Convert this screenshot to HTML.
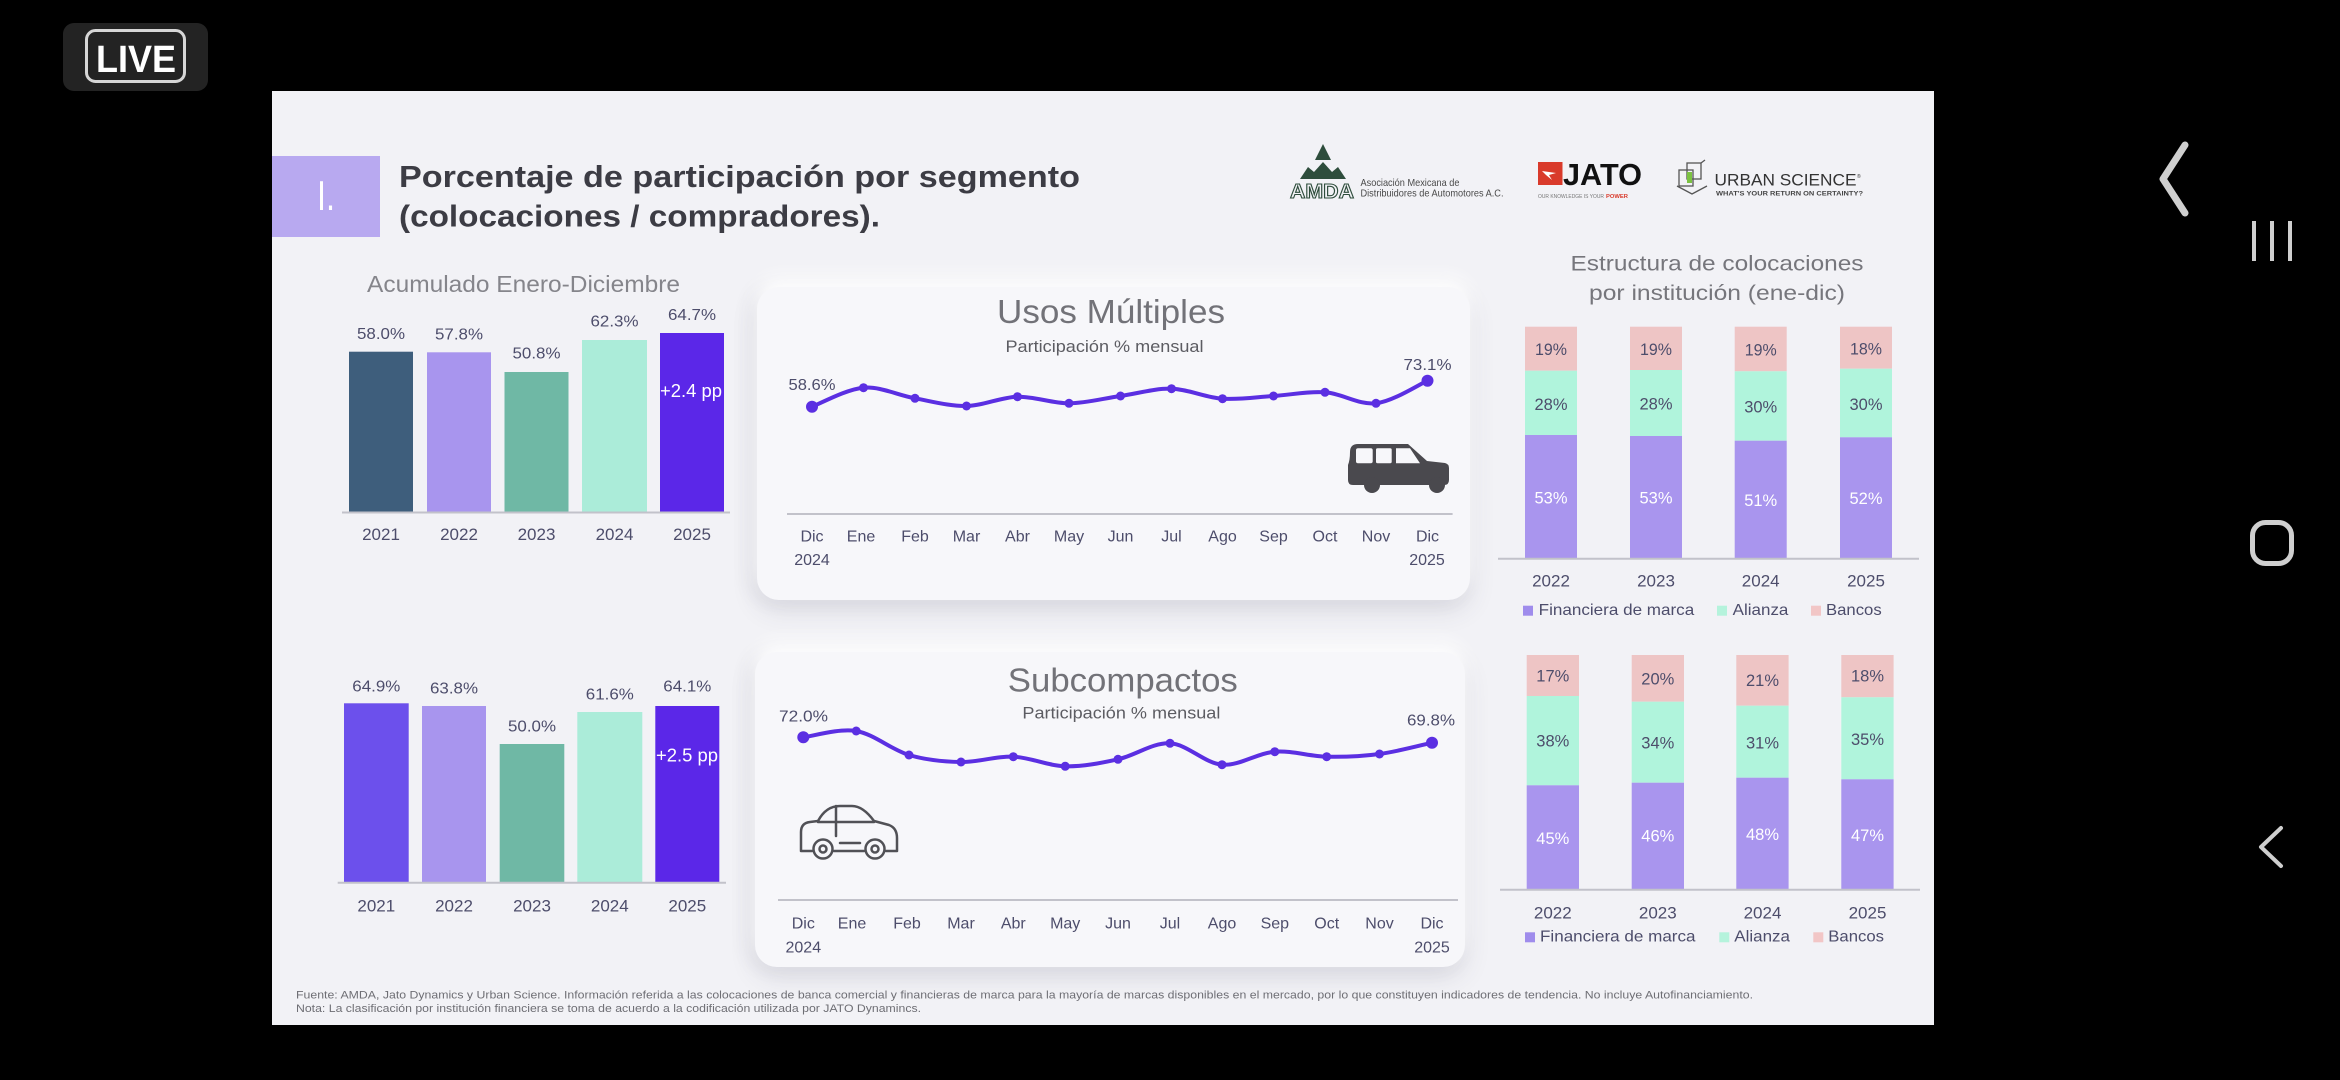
<!DOCTYPE html>
<html>
<head>
<meta charset="utf-8">
<style>
  html,body{margin:0;padding:0;}
  body{width:2340px;height:1080px;background:#000;overflow:hidden;position:relative;font-family:"Liberation Sans",sans-serif;}
  .slide{position:absolute;left:272px;top:91px;width:1662px;height:934px;background:#f2f2f6;}
  .card{position:absolute;background:#f7f7fa;border-radius:22px;
    box-shadow:0 -10px 18px rgba(255,255,255,0.95),0 10px 26px rgba(60,60,90,0.13),-6px 0 20px rgba(60,60,90,0.08);}
  svg{position:absolute;left:0;top:0;}
  text{font-family:"Liberation Sans",sans-serif;}
</style>
</head>
<body>
<div class="slide"></div>
<div class="card" style="left:757px;top:287px;width:713px;height:313px;"></div>
<div class="card" style="left:755px;top:652px;width:710px;height:315px;"></div>

<svg width="2340" height="1080" viewBox="0 0 2340 1080" xmlns="http://www.w3.org/2000/svg">
  <!-- LIVE badge -->
  <rect x="63" y="23" width="145" height="68" rx="11" fill="#232323"/>
  <rect x="86.5" y="30.5" width="98" height="51" rx="9" fill="none" stroke="#d6d6d6" stroke-width="3"/>
  <text x="96" y="72" font-size="38" font-weight="bold" fill="#ffffff" textLength="80" lengthAdjust="spacingAndGlyphs">LIVE</text>

  <!-- Right nav icons -->
  <polyline points="2185,145 2163,179 2185,213" fill="none" stroke="#cfcfcf" stroke-width="7" stroke-linecap="round" stroke-linejoin="round"/>
  <line x1="2254" y1="221" x2="2254" y2="261" stroke="#cfcfcf" stroke-width="4"/>
  <line x1="2272" y1="221" x2="2272" y2="261" stroke="#cfcfcf" stroke-width="4"/>
  <line x1="2290" y1="221" x2="2290" y2="261" stroke="#cfcfcf" stroke-width="4"/>
  <rect x="2252.5" y="522.5" width="39" height="41" rx="13" fill="none" stroke="#cfcfcf" stroke-width="5"/>
  <polyline points="2281,828 2261,847 2281,866" fill="none" stroke="#cfcfcf" stroke-width="4" stroke-linecap="round" stroke-linejoin="round"/>

  <!-- Header -->
  <rect x="272" y="156" width="108" height="81" fill="#b8a9f0"/>
  <text x="317" y="210" font-size="42" fill="#ffffff" textLength="18" lengthAdjust="spacingAndGlyphs">I.</text>
  <text x="399" y="187" font-size="31" font-weight="bold" fill="#3c3c44" textLength="681" lengthAdjust="spacingAndGlyphs">Porcentaje de participación por segmento</text>
  <text x="399" y="226.5" font-size="31" font-weight="bold" fill="#3c3c44" textLength="481" lengthAdjust="spacingAndGlyphs">(colocaciones / compradores).</text>

  <!-- Logos: AMDA -->
  <polygon points="1323,144 1315,160 1331,160" fill="#2e4d3c"/>
  <path d="M1300,179 L1308,167 L1314,172 L1323,162 L1332,172 L1338,167 L1346,179 Z" fill="#2e4d3c"/>
  <text x="1290" y="198" font-size="20" font-weight="bold" fill="none" stroke="#2e4d3c" stroke-width="1.1" textLength="64" lengthAdjust="spacingAndGlyphs">AMDA</text>
  <text x="1360.5" y="186" font-size="10.5" fill="#4a4a4a" textLength="99" lengthAdjust="spacingAndGlyphs">Asociación Mexicana de</text>
  <text x="1360.5" y="196.7" font-size="10.5" fill="#4a4a4a" textLength="143" lengthAdjust="spacingAndGlyphs">Distribuidores de Automotores A.C.</text>
  <!-- JATO -->
  <rect x="1538" y="162" width="24.5" height="23" fill="#d93a2b"/>
  <path d="M1542,171 L1556,173 L1549,175 L1552,180 L1546,175 Z" fill="#ffffff"/>
  <text x="1563" y="185" font-size="31" font-weight="bold" fill="#111111" textLength="79" lengthAdjust="spacingAndGlyphs">JATO</text>
  <text x="1538" y="198" font-size="5.5" fill="#777777" textLength="66" lengthAdjust="spacingAndGlyphs">OUR KNOWLEDGE IS YOUR</text>
  <text x="1606" y="198" font-size="5.5" font-weight="bold" fill="#d93a2b" textLength="22" lengthAdjust="spacingAndGlyphs">POWER</text>
  <!-- Urban Science -->
  <g fill="none" stroke="#555555" stroke-width="1.3">
    <rect x="1679" y="170" width="14" height="16"/>
    <rect x="1687" y="163" width="14" height="16"/>
    <path d="M1677,186 L1692,194 L1707,186"/>
    <line x1="1701" y1="163" x2="1705" y2="160"/>
  </g>
  <rect x="1687" y="172" width="5" height="11" fill="#7cc242"/>
  <text x="1714.5" y="185.7" font-size="17" fill="#333333" textLength="142" lengthAdjust="spacingAndGlyphs">URBAN SCIENCE</text>
  <text x="1857" y="178" font-size="5" fill="#333333">®</text>
  <text x="1716" y="195.7" font-size="6.5" font-weight="bold" fill="#444444" textLength="147" lengthAdjust="spacingAndGlyphs">WHAT'S YOUR RETURN ON CERTAINTY?</text>

  <!-- ========== Left top bar chart ========== -->
  <text x="367" y="292" font-size="23" fill="#85858b" textLength="313" lengthAdjust="spacingAndGlyphs">Acumulado Enero-Diciembre</text>
  <rect x="349" y="351.7" width="64" height="160.3" fill="#3e5e7c"/>
  <rect x="427" y="352.3" width="64" height="159.7" fill="#a895ee"/>
  <rect x="504.5" y="372" width="64" height="140" fill="#6fb8a5"/>
  <rect x="582" y="340" width="65" height="172" fill="#abecd9"/>
  <rect x="660" y="333" width="64" height="179" fill="#5b27e8"/>
  <line x1="342" y1="512.5" x2="730" y2="512.5" stroke="#c2c2ca" stroke-width="2"/>
  <g font-size="16" fill="#4d4d6b" text-anchor="middle">
    <text x="381" y="339" textLength="48" lengthAdjust="spacingAndGlyphs">58.0%</text>
    <text x="459" y="339.3" textLength="48" lengthAdjust="spacingAndGlyphs">57.8%</text>
    <text x="536.5" y="358.3" textLength="48" lengthAdjust="spacingAndGlyphs">50.8%</text>
    <text x="614.5" y="326.7" textLength="48" lengthAdjust="spacingAndGlyphs">62.3%</text>
    <text x="692" y="320" textLength="48" lengthAdjust="spacingAndGlyphs">64.7%</text>
  </g>
  <text x="691" y="397" font-size="18" fill="#ffffff" text-anchor="middle" textLength="62" lengthAdjust="spacingAndGlyphs">+2.4 pp</text>
  <g font-size="17" fill="#4d4d6b" text-anchor="middle">
    <text x="381" y="540">2021</text>
    <text x="459" y="540">2022</text>
    <text x="536.5" y="540">2023</text>
    <text x="614.5" y="540">2024</text>
    <text x="692" y="540">2025</text>
  </g>

  <!-- ========== Left bottom bar chart ========== -->
  <rect x="344" y="703.3" width="64.7" height="179" fill="#6c50ec"/>
  <rect x="422" y="706" width="64" height="176.3" fill="#a895ee"/>
  <rect x="499.7" y="744" width="64.6" height="138.3" fill="#6fb8a5"/>
  <rect x="577.3" y="712" width="65" height="170.3" fill="#abecd9"/>
  <rect x="655.3" y="706" width="64" height="176.3" fill="#5b27e8"/>
  <line x1="337.7" y1="882.8" x2="726" y2="882.8" stroke="#c2c2ca" stroke-width="2"/>
  <g font-size="16" fill="#4d4d6b" text-anchor="middle">
    <text x="376.3" y="691.7" textLength="48" lengthAdjust="spacingAndGlyphs">64.9%</text>
    <text x="454" y="693.3" textLength="48" lengthAdjust="spacingAndGlyphs">63.8%</text>
    <text x="532" y="731.7" textLength="48" lengthAdjust="spacingAndGlyphs">50.0%</text>
    <text x="609.8" y="699.3" textLength="48" lengthAdjust="spacingAndGlyphs">61.6%</text>
    <text x="687.3" y="691.7" textLength="48" lengthAdjust="spacingAndGlyphs">64.1%</text>
  </g>
  <text x="687" y="761.7" font-size="18" fill="#ffffff" text-anchor="middle" textLength="62" lengthAdjust="spacingAndGlyphs">+2.5 pp</text>
  <g font-size="17" fill="#4d4d6b" text-anchor="middle">
    <text x="376.3" y="911.7">2021</text>
    <text x="454" y="911.7">2022</text>
    <text x="532" y="911.7">2023</text>
    <text x="609.8" y="911.7">2024</text>
    <text x="687.3" y="911.7">2025</text>
  </g>

  <!-- ========== Usos Múltiples line chart ========== -->
  <text x="1111" y="323" font-size="33" fill="#727278" text-anchor="middle" textLength="228" lengthAdjust="spacingAndGlyphs">Usos Múltiples</text>
  <text x="1104.5" y="352" font-size="17" fill="#5c5c62" text-anchor="middle" textLength="198" lengthAdjust="spacingAndGlyphs">Participación % mensual</text>
  <path d="M812,406.7 C820.6,403.5 846.4,389.1 863.5,387.7 C880.6,386.3 897.9,395.3 915,398.3 C932.1,401.4 949.4,406.3 966.5,406 C983.6,405.7 1000.4,397.2 1017.5,396.7 C1034.6,396.3 1051.9,403.4 1069,403.3 C1086.1,403.2 1103.4,398.4 1120.5,396 C1137.6,393.6 1154.4,388.3 1171.5,388.7 C1188.6,389.2 1205.4,397.5 1222.5,398.7 C1239.6,399.9 1256.4,397.1 1273.5,396 C1290.6,394.9 1307.9,391.1 1325,392.3 C1342.1,393.5 1358.9,405.2 1376,403.3 C1393.1,401.4 1418.9,384.5 1427.5,380.7" fill="none" stroke="#5b2fe2" stroke-width="4" stroke-linecap="round"/>
  <g fill="#5b2fe2">
    <circle cx="812" cy="406.7" r="6"/>
    <circle cx="863.5" cy="387.7" r="4.5"/>
    <circle cx="915" cy="398.3" r="4.5"/>
    <circle cx="966.5" cy="406" r="4.5"/>
    <circle cx="1017.5" cy="396.7" r="4.5"/>
    <circle cx="1069" cy="403.3" r="4.5"/>
    <circle cx="1120.5" cy="396" r="4.5"/>
    <circle cx="1171.5" cy="388.7" r="4.5"/>
    <circle cx="1222.5" cy="398.7" r="4.5"/>
    <circle cx="1273.5" cy="396" r="4.5"/>
    <circle cx="1325" cy="392.3" r="4.5"/>
    <circle cx="1376" cy="403.3" r="4.5"/>
    <circle cx="1427.5" cy="380.7" r="6"/>
  </g>
  <text x="812" y="390" font-size="16" fill="#4d4d6b" text-anchor="middle" textLength="47" lengthAdjust="spacingAndGlyphs">58.6%</text>
  <text x="1427.5" y="370" font-size="16" fill="#4d4d6b" text-anchor="middle" textLength="48" lengthAdjust="spacingAndGlyphs">73.1%</text>
  <!-- SUV icon -->
  <path d="M1350,452 Q1350,444 1358,444 L1408,444 L1427,461 L1445,463 Q1449,464 1449,468 L1449,480 Q1449,485 1444,485 L1353,485 Q1348,485 1348,480 L1348,465 Q1350,460 1350,452 Z" fill="#4a494e"/>
  <circle cx="1372" cy="485" r="8" fill="#4a494e"/>
  <circle cx="1437" cy="485" r="8" fill="#4a494e"/>
  <g fill="#f7f7fa">
    <rect x="1356" y="448.3" width="16.7" height="15" rx="2"/>
    <rect x="1376" y="448.3" width="15.7" height="15" rx="1.5"/>
    <path d="M1396,448.3 L1410,448.3 L1420,463.3 L1396,463.3 Z"/>
  </g>
  <line x1="787" y1="514" x2="1452.6" y2="514" stroke="#c2c2ca" stroke-width="2"/>
  <g font-size="16" fill="#4d4d6b" text-anchor="middle">
    <text x="812" y="541.7">Dic</text>
    <text x="861" y="541.7">Ene</text>
    <text x="915" y="541.7">Feb</text>
    <text x="966.5" y="541.7">Mar</text>
    <text x="1017.5" y="541.7">Abr</text>
    <text x="1069" y="541.7">May</text>
    <text x="1120.5" y="541.7">Jun</text>
    <text x="1171.5" y="541.7">Jul</text>
    <text x="1222.5" y="541.7">Ago</text>
    <text x="1273.5" y="541.7">Sep</text>
    <text x="1325" y="541.7">Oct</text>
    <text x="1376" y="541.7">Nov</text>
    <text x="1427.5" y="541.7">Dic</text>
    <text x="812" y="565">2024</text>
    <text x="1427" y="565">2025</text>
  </g>

  <!-- ========== Subcompactos line chart ========== -->
  <text x="1122.8" y="691.7" font-size="33" fill="#727278" text-anchor="middle" textLength="230" lengthAdjust="spacingAndGlyphs">Subcompactos</text>
  <text x="1121.4" y="718.3" font-size="17" fill="#5c5c62" text-anchor="middle" textLength="198" lengthAdjust="spacingAndGlyphs">Participación % mensual</text>
  <path d="M803.3,737.3 C812.1,736.3 838.8,728.1 856.2,731 C873.6,734 891.6,749.8 909,755 C926.4,760.2 943.6,761.7 961,762 C978.4,762.3 995.9,756 1013.3,756.7 C1030.7,757.4 1047.8,765.9 1065.2,766.3 C1082.6,766.7 1100.6,763.1 1118,759.3 C1135.4,755.5 1152.6,742.4 1170,743.3 C1187.4,744.2 1204.6,763.3 1222,764.7 C1239.4,766.1 1257.4,753 1274.8,751.7 C1292.2,750.4 1309.3,756.3 1326.7,756.7 C1344.1,757.1 1362.1,756.3 1379.5,754 C1396.9,751.7 1423.3,744.6 1432,742.7" fill="none" stroke="#5b2fe2" stroke-width="4" stroke-linecap="round"/>
  <g fill="#5b2fe2">
    <circle cx="803.3" cy="737.3" r="6"/>
    <circle cx="856.2" cy="731" r="4.5"/>
    <circle cx="909" cy="755" r="4.5"/>
    <circle cx="961" cy="762" r="4.5"/>
    <circle cx="1013.3" cy="756.7" r="4.5"/>
    <circle cx="1065.2" cy="766.3" r="4.5"/>
    <circle cx="1118" cy="759.3" r="4.5"/>
    <circle cx="1170" cy="743.3" r="4.5"/>
    <circle cx="1222" cy="764.7" r="4.5"/>
    <circle cx="1274.8" cy="751.7" r="4.5"/>
    <circle cx="1326.7" cy="756.7" r="4.5"/>
    <circle cx="1379.5" cy="754" r="4.5"/>
    <circle cx="1432" cy="742.7" r="6"/>
  </g>
  <text x="803.5" y="721.7" font-size="16" fill="#4d4d6b" text-anchor="middle" textLength="49" lengthAdjust="spacingAndGlyphs">72.0%</text>
  <text x="1431" y="725.7" font-size="16" fill="#4d4d6b" text-anchor="middle" textLength="48" lengthAdjust="spacingAndGlyphs">69.8%</text>
  <!-- Car outline icon -->
  <g fill="none" stroke="#515156" stroke-width="2.5" stroke-linejoin="round" stroke-linecap="round">
    <path d="M812,851 L801,851 L801,832 Q801,823 810,822 L818,821 Q826,806 840,806 L852,806 Q863,806 874,821 L889,825 Q897,828 897,838 L897,851 L886,851"/>
    <path d="M864,851 L834,851"/>
    <path d="M818,822 L874,822"/>
    <path d="M836,806 L836,836"/>
    <path d="M840,843 L860,843"/>
    <circle cx="823" cy="849" r="9.5"/>
    <circle cx="875" cy="849" r="9.5"/>
    <circle cx="823" cy="849" r="3.5"/>
    <circle cx="875" cy="849" r="3.5"/>
  </g>
  <line x1="778" y1="900" x2="1458" y2="900" stroke="#c2c2ca" stroke-width="2"/>
  <g font-size="16" fill="#4d4d6b" text-anchor="middle">
    <text x="803.3" y="928.3">Dic</text>
    <text x="852" y="928.3">Ene</text>
    <text x="907" y="928.3">Feb</text>
    <text x="961" y="928.3">Mar</text>
    <text x="1013.3" y="928.3">Abr</text>
    <text x="1065.2" y="928.3">May</text>
    <text x="1118" y="928.3">Jun</text>
    <text x="1170" y="928.3">Jul</text>
    <text x="1222" y="928.3">Ago</text>
    <text x="1274.8" y="928.3">Sep</text>
    <text x="1326.7" y="928.3">Oct</text>
    <text x="1379.5" y="928.3">Nov</text>
    <text x="1432" y="928.3">Dic</text>
    <text x="803.3" y="952.3">2024</text>
    <text x="1432" y="952.3">2025</text>
  </g>

  <!-- ========== Stacked top ========== -->
  <text x="1717" y="270.7" font-size="21" fill="#76767c" text-anchor="middle" textLength="293" lengthAdjust="spacingAndGlyphs">Estructura de colocaciones</text>
  <text x="1717" y="300" font-size="21" fill="#76767c" text-anchor="middle" textLength="256" lengthAdjust="spacingAndGlyphs">por institución (ene-dic)</text>
  <rect x="1525" y="326.7" width="52" height="44" fill="#eec5c5"/>
  <rect x="1525" y="370.7" width="52" height="64.3" fill="#b0f4dc"/>
  <rect x="1525" y="435" width="52" height="123.3" fill="#a995ee"/>
  <rect x="1630" y="326.7" width="52" height="43.3" fill="#eec5c5"/>
  <rect x="1630" y="370" width="52" height="66" fill="#b0f4dc"/>
  <rect x="1630" y="436" width="52" height="122.3" fill="#a995ee"/>
  <rect x="1734.7" y="326.7" width="52" height="44.6" fill="#eec5c5"/>
  <rect x="1734.7" y="371.3" width="52" height="69.4" fill="#b0f4dc"/>
  <rect x="1734.7" y="440.7" width="52" height="117.6" fill="#a995ee"/>
  <rect x="1840" y="326.7" width="52" height="42" fill="#eec5c5"/>
  <rect x="1840" y="368.7" width="52" height="68.6" fill="#b0f4dc"/>
  <rect x="1840" y="437.3" width="52" height="121" fill="#a995ee"/>
  <line x1="1498" y1="558.8" x2="1919" y2="558.8" stroke="#c2c2ca" stroke-width="2"/>
  <g font-size="17" fill="#4d4d6b" text-anchor="middle">
    <text x="1551" y="355" textLength="32" lengthAdjust="spacingAndGlyphs">19%</text>
    <text x="1656" y="355" textLength="32" lengthAdjust="spacingAndGlyphs">19%</text>
    <text x="1760.7" y="355.5" textLength="32" lengthAdjust="spacingAndGlyphs">19%</text>
    <text x="1866" y="354.3" textLength="32" lengthAdjust="spacingAndGlyphs">18%</text>
    <text x="1551" y="410" textLength="33" lengthAdjust="spacingAndGlyphs">28%</text>
    <text x="1656" y="409.5" textLength="33" lengthAdjust="spacingAndGlyphs">28%</text>
    <text x="1760.7" y="412.7" textLength="33" lengthAdjust="spacingAndGlyphs">30%</text>
    <text x="1866" y="410" textLength="33" lengthAdjust="spacingAndGlyphs">30%</text>
  </g>
  <g font-size="17" fill="#ffffff" text-anchor="middle">
    <text x="1551" y="503.3" textLength="33" lengthAdjust="spacingAndGlyphs">53%</text>
    <text x="1656" y="503.3" textLength="33" lengthAdjust="spacingAndGlyphs">53%</text>
    <text x="1760.7" y="506" textLength="33" lengthAdjust="spacingAndGlyphs">51%</text>
    <text x="1866" y="504" textLength="33" lengthAdjust="spacingAndGlyphs">52%</text>
  </g>
  <g font-size="17" fill="#4d4d6b" text-anchor="middle">
    <text x="1551" y="586.7">2022</text>
    <text x="1656" y="586.7">2023</text>
    <text x="1760.7" y="586.7">2024</text>
    <text x="1866" y="586.7">2025</text>
  </g>
  <rect x="1523" y="605.7" width="10" height="10" fill="#9f8cec"/>
  <text x="1538.7" y="615" font-size="16" fill="#4d4d6b" textLength="155.5" lengthAdjust="spacingAndGlyphs">Financiera de marca</text>
  <rect x="1717" y="605.7" width="10" height="10" fill="#b5f3dc"/>
  <text x="1732.7" y="615" font-size="16" fill="#4d4d6b" textLength="55.7" lengthAdjust="spacingAndGlyphs">Alianza</text>
  <rect x="1811" y="605.7" width="10" height="10" fill="#f2c6c6"/>
  <text x="1826" y="615" font-size="16" fill="#4d4d6b" textLength="55.7" lengthAdjust="spacingAndGlyphs">Bancos</text>

  <!-- ========== Stacked bottom ========== -->
  <rect x="1526.7" y="655" width="52.3" height="41" fill="#eec5c5"/>
  <rect x="1526.7" y="696" width="52.3" height="89.3" fill="#b0f4dc"/>
  <rect x="1526.7" y="785.3" width="52.3" height="104" fill="#a995ee"/>
  <rect x="1631.7" y="655" width="52.3" height="46.7" fill="#eec5c5"/>
  <rect x="1631.7" y="701.7" width="52.3" height="81" fill="#b0f4dc"/>
  <rect x="1631.7" y="782.7" width="52.3" height="106.6" fill="#a995ee"/>
  <rect x="1736.3" y="655" width="52.3" height="50.7" fill="#eec5c5"/>
  <rect x="1736.3" y="705.7" width="52.3" height="72" fill="#b0f4dc"/>
  <rect x="1736.3" y="777.7" width="52.3" height="111.6" fill="#a995ee"/>
  <rect x="1841.3" y="655" width="52.3" height="42.3" fill="#eec5c5"/>
  <rect x="1841.3" y="697.3" width="52.3" height="82" fill="#b0f4dc"/>
  <rect x="1841.3" y="779.3" width="52.3" height="110" fill="#a995ee"/>
  <line x1="1500" y1="889.8" x2="1920" y2="889.8" stroke="#c2c2ca" stroke-width="2"/>
  <g font-size="17" fill="#4d4d6b" text-anchor="middle">
    <text x="1552.8" y="681.7" textLength="33" lengthAdjust="spacingAndGlyphs">17%</text>
    <text x="1657.8" y="684.3" textLength="33" lengthAdjust="spacingAndGlyphs">20%</text>
    <text x="1762.5" y="686" textLength="33" lengthAdjust="spacingAndGlyphs">21%</text>
    <text x="1867.5" y="681.7" textLength="33" lengthAdjust="spacingAndGlyphs">18%</text>
    <text x="1552.8" y="746.7" textLength="33" lengthAdjust="spacingAndGlyphs">38%</text>
    <text x="1657.8" y="748.3" textLength="33" lengthAdjust="spacingAndGlyphs">34%</text>
    <text x="1762.5" y="748.3" textLength="33" lengthAdjust="spacingAndGlyphs">31%</text>
    <text x="1867.5" y="745" textLength="33" lengthAdjust="spacingAndGlyphs">35%</text>
  </g>
  <g font-size="17" fill="#ffffff" text-anchor="middle">
    <text x="1552.8" y="844" textLength="33" lengthAdjust="spacingAndGlyphs">45%</text>
    <text x="1657.8" y="841.7" textLength="33" lengthAdjust="spacingAndGlyphs">46%</text>
    <text x="1762.5" y="840" textLength="33" lengthAdjust="spacingAndGlyphs">48%</text>
    <text x="1867.5" y="841" textLength="33" lengthAdjust="spacingAndGlyphs">47%</text>
  </g>
  <g font-size="17" fill="#4d4d6b" text-anchor="middle">
    <text x="1552.8" y="918.3">2022</text>
    <text x="1657.8" y="918.3">2023</text>
    <text x="1762.5" y="918.3">2024</text>
    <text x="1867.5" y="918.3">2025</text>
  </g>
  <rect x="1525" y="932.3" width="10" height="10" fill="#9f8cec"/>
  <text x="1540" y="941.7" font-size="16" fill="#4d4d6b" textLength="155.5" lengthAdjust="spacingAndGlyphs">Financiera de marca</text>
  <rect x="1719.3" y="932.3" width="10" height="10" fill="#b5f3dc"/>
  <text x="1734.3" y="941.7" font-size="16" fill="#4d4d6b" textLength="55.7" lengthAdjust="spacingAndGlyphs">Alianza</text>
  <rect x="1813.3" y="932.3" width="10" height="10" fill="#f2c6c6"/>
  <text x="1828.3" y="941.7" font-size="16" fill="#4d4d6b" textLength="55.7" lengthAdjust="spacingAndGlyphs">Bancos</text>

  <!-- Footer -->
  <text x="296" y="998.7" font-size="11" fill="#6e6e74" textLength="1457" lengthAdjust="spacingAndGlyphs">Fuente: AMDA, Jato Dynamics y Urban Science. Información referida a las colocaciones de banca comercial y financieras de marca para la mayoría de marcas disponibles en el mercado, por lo que constituyen indicadores de tendencia. No incluye Autofinanciamiento.</text>
  <text x="296" y="1012" font-size="11" fill="#6e6e74" textLength="625" lengthAdjust="spacingAndGlyphs">Nota: La clasificación por institución financiera se toma de acuerdo a la codificación utilizada por JATO Dynamincs.</text>
</svg>
</body>
</html>
